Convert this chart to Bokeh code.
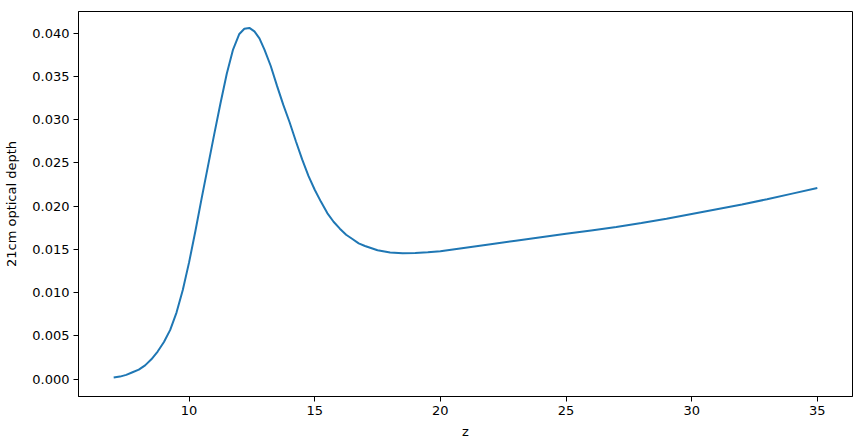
from bokeh.plotting import figure
from bokeh.models import FixedTicker, NumeralTickFormatter, Range1d
from bokeh.embed import file_html
from bokeh.resources import INLINE

z = [7.0, 7.25, 7.5, 7.75, 8.0, 8.25, 8.5, 8.75, 9.0, 9.25, 9.5, 9.75, 10.0, 10.25,
     10.5, 10.75, 11.0, 11.25, 11.5, 11.75, 12.0, 12.2, 12.4, 12.6, 12.8, 13.0, 13.25,
     13.5, 13.75, 14.0, 14.25, 14.5, 14.75, 15.0, 15.25, 15.5, 15.75, 16.0, 16.25,
     16.5, 16.75, 17.0, 17.5, 18.0, 18.5, 19.0, 19.5, 20.0, 21.0, 22.0, 23.0, 24.0, 25.0,
     26.0, 27.0, 28.0, 29.0, 30.0, 31.0, 32.0, 33.0, 34.0, 35.0]
tau = [0.0002, 0.0003, 0.0005, 0.0008, 0.0011, 0.0016, 0.0023, 0.0032, 0.0043, 0.0057,
       0.0077, 0.0103, 0.0135, 0.0171, 0.0209, 0.0246, 0.0283, 0.0319, 0.0353, 0.0381,
       0.0399, 0.0405, 0.0406, 0.0402, 0.0394, 0.0381, 0.0362, 0.0339, 0.0317, 0.0297,
       0.0275, 0.0254, 0.0235, 0.0219, 0.0205, 0.0192, 0.0182, 0.0174, 0.0167, 0.0162,
       0.0157, 0.0154, 0.0149, 0.01465, 0.01457, 0.01458, 0.01466, 0.01478, 0.0152, 0.0156,
       0.0160, 0.0164, 0.0168, 0.0172, 0.0176, 0.01805, 0.01855, 0.0191, 0.01965,
       0.0202, 0.0208, 0.02145, 0.0221]
x_ticks = [10, 15, 20, 25, 30, 35]
y_ticks = [0.0, 0.005, 0.01, 0.015, 0.02, 0.025, 0.03, 0.035, 0.04]

p = figure(frame_width=774, frame_height=385, output_backend="svg", toolbar_location=None,
           x_range=Range1d(5.6, 36.4), y_range=Range1d(-0.002, 0.0425),
           min_border_left=78, min_border_top=11, min_border_right=2, min_border_bottom=44)
p.line(z, tau, line_color="#1f77b4", line_width=2)

p.grid.visible = False
p.outline_line_color = "black"
p.outline_line_width = 1
p.outline_line_alpha = 1

for ax in (p.xaxis[0], p.yaxis[0]):
    ax.axis_line_color = "black"
    ax.major_tick_line_color = "black"
    ax.major_tick_out = 5
    ax.major_tick_in = 0
    ax.minor_tick_line_color = None
    ax.major_label_text_font = "DejaVu Sans"
    ax.major_label_text_font_size = "13px"
    ax.major_label_text_color = "black"
    ax.axis_label_text_font = "DejaVu Sans"
    ax.axis_label_text_font_size = "13px"
    ax.axis_label_text_font_style = "normal"
    ax.axis_label_text_color = "black"
    ax.major_label_standoff = 4

p.xaxis.ticker = FixedTicker(ticks=x_ticks)
p.yaxis.ticker = FixedTicker(ticks=y_ticks)
p.yaxis.formatter = NumeralTickFormatter(format="0.000")
p.xaxis.axis_label = "z"
p.yaxis.axis_label = "21cm optical depth"
p.xaxis.axis_label_standoff = 6
p.yaxis.axis_label_standoff = 10

open("out.html", "w").write(file_html(p, INLINE))
